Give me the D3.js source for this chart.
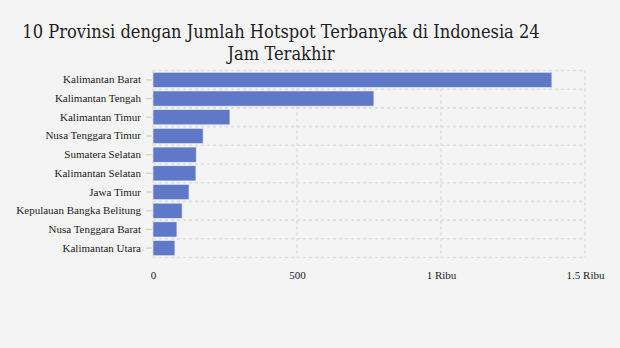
<!DOCTYPE html>
<html>
<head>
<meta charset="utf-8">
<script src="https://cdn.jsdelivr.net/npm/d3@7"></script>
<style>
  html, body { margin: 0; padding: 0; background: #f4f4f4; }
  svg { display: block; }
</style>
</head>
<body>
<svg id="chart" width="620" height="348"></svg>
<script>
// Hotspot counts per province, last 24 hours
const provinces = [
  "Kalimantan Barat",
  "Kalimantan Tengah",
  "Kalimantan Timur",
  "Nusa Tenggara Timur",
  "Sumatera Selatan",
  "Kalimantan Selatan",
  "Jawa Timur",
  "Kepulauan Bangka Belitung",
  "Nusa Tenggara Barat",
  "Kalimantan Utara"
];
const hotspots = [1385, 767, 267, 174, 150, 149, 125, 101, 83, 76];
const xTicks = [0, 500, 1000, 1500];
const xTickLabels = ["0", "500", "1 Ribu", "1.5 Ribu"];
const titleLines = ["10 Provinsi dengan Jumlah Hotspot Terbanyak di Indonesia 24", "Jam Terakhir"];

const svg = d3.select("#chart");
const W = 620, H = 348;
const margin = { top: 70.5, right: 35, bottom: 90.5, left: 153 };

svg.append("rect").attr("width", W).attr("height", H).attr("fill", "#f4f4f4");

// Title, squeezed horizontally so the first line spans the title width
const titleWidth = 518, titleCenter = 281;
const titleG = svg.append("g");
const title = titleG.append("text")
  .attr("text-anchor", "middle")
  .attr("font-family", "'DejaVu Serif', serif")
  .attr("font-size", 18.5)
  .attr("fill", "#1e1e1e");
const spans = titleLines.map((t, i) =>
  title.append("tspan").attr("x", 0).attr("y", 38 + i * 22).text(t)
);
const w0 = spans[0].node().getComputedTextLength();
const sx = titleWidth / w0;
titleG.attr("transform", `translate(${titleCenter},0) scale(${sx},1)`);

const x = d3.scaleLinear()
  .domain([0, 1500])
  .range([margin.left, W - margin.right]);

const gridColor = "#dedede";
const grid = svg.append("g");
const innerH = H - margin.bottom - margin.top;

// Horizontal dashed lines on the band boundaries
d3.range(provinces.length + 1).forEach(i => {
  const yy = margin.top + i * innerH / provinces.length;
  grid.append("line")
    .attr("x1", x(0)).attr("x2", x(1500))
    .attr("y1", yy).attr("y2", yy)
    .attr("stroke", gridColor).attr("stroke-width", 1.6)
    .attr("stroke-dasharray", "3,3");
});

// Vertical dashed lines at x ticks
grid.selectAll("line.v").data(xTicks).enter().append("line")
  .attr("class", "v")
  .attr("x1", d => x(d)).attr("x2", d => x(d))
  .attr("y1", margin.top).attr("y2", H - margin.bottom)
  .attr("stroke", gridColor).attr("stroke-width", 1.6)
  .attr("stroke-dasharray", "3,3");

// Bars
const data = provinces.map((p, i) => ({ p, v: hotspots[i] }));
const barY = d3.scaleBand()
  .domain(provinces)
  .range([margin.top, H - margin.bottom])
  .paddingInner(0.19)
  .paddingOuter(0.095);

svg.append("g").selectAll("rect").data(data).enter().append("rect")
  .attr("x", x(0))
  .attr("y", d => barY(d.p))
  .attr("width", d => x(d.v) - x(0))
  .attr("height", barY.bandwidth())
  .attr("fill", "#5f78c8")
  .attr("stroke", "#e8ecf6")
  .attr("stroke-width", 0.6);

// Y axis: labels and small ticks
const yAxis = d3.axisLeft(barY).tickSize(6).tickPadding(5);
const gy = svg.append("g")
  .attr("transform", `translate(${x(0) - 1},0)`)
  .call(yAxis);
gy.select(".domain").remove();
gy.selectAll(".tick line").attr("stroke", "#d0d0d0").attr("stroke-width", 1.2);
gy.selectAll(".tick text")
  .attr("font-family", "'Liberation Serif', 'Times New Roman', serif")
  .attr("font-size", 11)
  .attr("fill", "#222");

// X axis labels
const xAxis = d3.axisBottom(x)
  .tickValues(xTicks)
  .tickSize(0)
  .tickPadding(14)
  .tickFormat((d, i) => xTickLabels[i]);
const gx = svg.append("g")
  .attr("transform", `translate(0,${H - margin.bottom})`)
  .call(xAxis);
gx.select(".domain").remove();
gx.selectAll(".tick text")
  .attr("font-family", "'Liberation Serif', 'Times New Roman', serif")
  .attr("font-size", 11)
  .attr("fill", "#222");
</script>
</body>
</html>
